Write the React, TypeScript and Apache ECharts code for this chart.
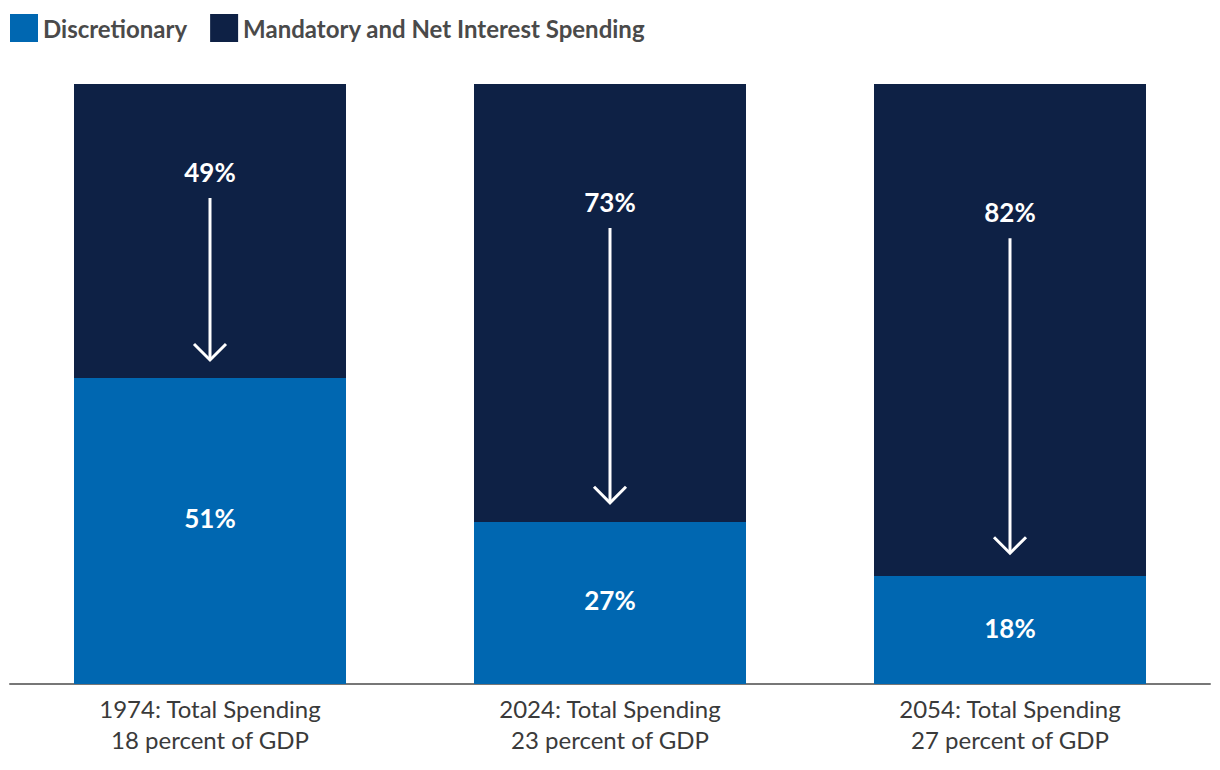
import React, { useEffect, useRef } from "react";
import * as echarts from "echarts";

const years = ["1974", "2024", "2054"];
const totalPctGdp = [18, 23, 27];
const discretionary = [51, 27, 18];
const mandatory = [49, 73, 82];
// arrow annotation: label center, arrow start, arrow end (in axis percent units)
const arrowLabelY = [85.3, 80.3, 78.7];
const arrowStartY = [81, 76, 74.3];
const arrowEndY = [54, 30.2, 21.8];
const discLabelOffset = [-13, -3, -2];

const categories = years.map(
  (y, i) => `${y}: Total Spending\n${totalPctGdp[i]} percent of GDP`
);

export default function App() {
  const ref = useRef<HTMLDivElement>(null);
  useEffect(() => {
    if (!ref.current) return;
    const chart = echarts.init(ref.current, null, { renderer: "svg" });
    const font = "Lato, 'Open Sans', sans-serif";
    chart.setOption({
      animation: false,
      textStyle: { fontFamily: font },
      legend: {
        left: 10,
        top: 14,
        padding: 0,
        icon: "rect",
        itemWidth: 28,
        itemHeight: 28,
        itemGap: 23,
        textStyle: { fontSize: 24, fontWeight: "bold", color: "#4a4a4a", fontFamily: font },
        data: ["Discretionary", "Mandatory and Net Interest Spending"],
      },
      grid: { left: 10, right: 10, top: 84, bottom: 86 },
      xAxis: {
        type: "category",
        data: categories,
        axisLine: { lineStyle: { color: "#777", width: 2 } },
        axisTick: { show: false },
        axisLabel: {
          fontSize: 24,
          color: "#3a3a3a",
          lineHeight: 31,
          margin: 9,
          fontFamily: font,
        },
      },
      yAxis: { type: "value", min: 0, max: 100, show: false, splitLine: { show: false } },
      series: [
        {
          name: "Discretionary",
          type: "bar",
          stack: "s",
          barWidth: 272,
          itemStyle: { color: "#0067b1" },
          data: discretionary.map((v, i) => ({
            value: v,
            label: { offset: [0, discLabelOffset[i]] },
          })),
          label: {
            show: true,
            position: "inside",
            formatter: "{c}%",
            color: "#fff",
            fontSize: 26,
            fontWeight: "bold",
            fontFamily: font,
          },
        },
        {
          name: "Mandatory and Net Interest Spending",
          type: "bar",
          stack: "s",
          barWidth: 272,
          itemStyle: { color: "#0e2145" },
          data: mandatory,
        },
        {
          type: "custom",
          name: "arrows",
          silent: true,
          z: 10,
          data: mandatory.map((v, i) => [i, arrowLabelY[i], arrowStartY[i], arrowEndY[i], v]),
          renderItem: (params: any, api: any) => {
            const idx = api.value(0);
            const pl = api.coord([idx, api.value(1)]);
            const ps = api.coord([idx, api.value(2)]);
            const pe = api.coord([idx, api.value(3)]);
            const x = pl[0];
            const h = 16;
            return {
              type: "group",
              children: [
                {
                  type: "text",
                  x: x,
                  y: pl[1],
                  style: {
                    text: `${api.value(4)}%`,
                    fill: "#fff",
                    fontSize: 26,
                    fontWeight: "bold",
                    fontFamily: font,
                    align: "center",
                    verticalAlign: "middle",
                  },
                },
                {
                  type: "line",
                  shape: { x1: x, y1: ps[1], x2: x, y2: pe[1] - 1 },
                  style: { stroke: "#fff", lineWidth: 3 },
                },
                {
                  type: "polyline",
                  shape: { points: [[x - h, pe[1] - h], [x, pe[1]], [x + h, pe[1] - h]] },
                  style: { stroke: "#fff", lineWidth: 3, fill: null },
                },
              ],
            };
          },
        },
      ],
    });
    return () => chart.dispose();
  }, []);
  return (
    <div
      ref={ref}
      style={{ position: "fixed", left: 0, top: 0, width: 1220, height: 770, background: "#fff" }}
    />
  );
}
